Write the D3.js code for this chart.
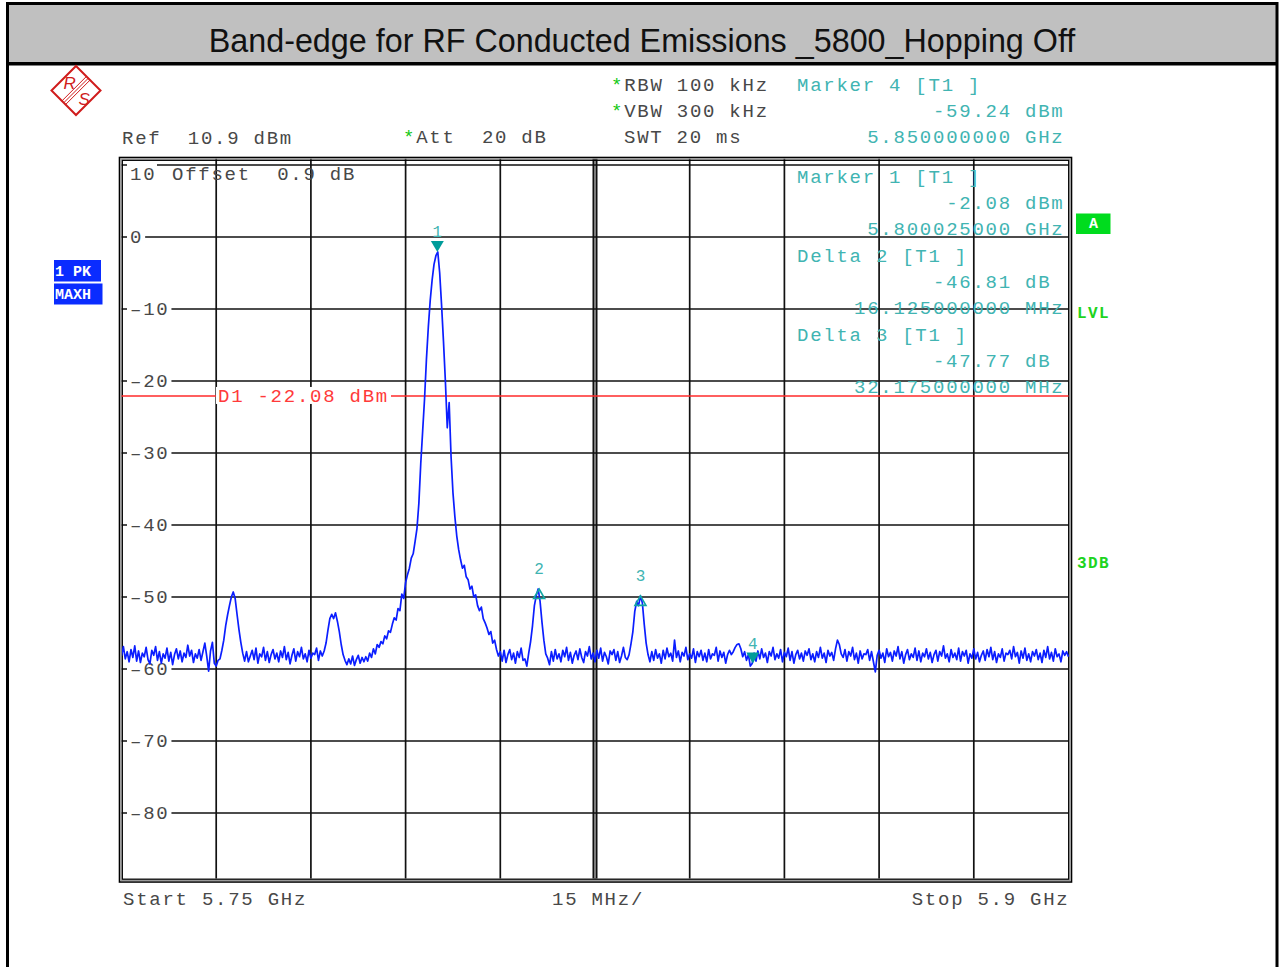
<!DOCTYPE html>
<html>
<head>
<meta charset="utf-8">
<script src="https://cdn.jsdelivr.net/npm/d3@7"></script>
<style>
body { margin: 0; background: #fff; }
text { white-space: pre; }
</style>
</head>
<body>
<div id="chart"></div>
<script>
// sweep settings
var startMHz = 5750;
var stopMHz = 5900;
var stepMHz = 0.3;
var refLevel = 10.9;
var bottomLevel = -89.1;
var d1Level = -22.08;

// trace values (dBm), 501 sweep points, one every 0.3 MHz from 5750 to 5900 MHz
var traceDbm = [
  -58.2, -56.9, -58.6, -57.6, -59.0, -57.3, -58.4, -56.8, -58.9, -57.5,
  -59.1, -57.8, -58.3, -57.0, -58.7, -59.3, -57.4, -58.1, -56.9, -58.8,
  -57.6, -59.2, -57.9, -58.5, -57.1, -58.9, -57.7, -59.4, -58.0, -57.2,
  -58.6, -57.5, -59.0, -57.8, -58.4, -56.7, -58.2, -57.4, -59.1, -57.9,
  -58.5, -57.3, -58.8, -57.6, -56.4, -58.2, -60.3, -57.5, -56.3, -59.2,
  -59.6, -58.8, -58.6, -57.4, -56.0, -54.0, -52.5, -51.2, -50.0, -49.3,
  -50.2, -52.4, -54.5, -56.3, -57.8, -58.9, -57.6, -59.0, -58.2, -57.4,
  -58.7, -57.1, -59.2, -57.9, -58.3, -57.0, -58.8, -57.6, -59.1, -58.0,
  -57.3, -58.6, -57.8, -59.0, -57.5, -58.4, -56.9, -58.7, -57.7, -59.3,
  -58.1, -57.2, -58.9, -57.6, -58.3, -57.0, -58.6, -57.9, -59.0, -57.4,
  -58.5, -57.8, -58.0, -57.1, -58.8, -57.5, -58.2, -57.5, -56.4, -54.6,
  -53.0, -52.4, -53.0, -52.2, -53.4, -54.8, -56.6, -58.0, -58.8, -59.4,
  -58.6, -59.3, -58.2, -59.5, -58.7, -58.1, -59.2, -58.4, -59.0, -58.3,
  -58.9, -57.8, -58.4, -57.2, -57.9, -56.6, -57.0, -56.2, -56.5, -55.4,
  -55.8, -54.7, -54.9, -53.8, -52.9, -53.2, -51.6, -51.9, -49.6, -50.2,
  -48.0, -46.9, -46.0, -44.6, -44.0, -42.3, -40.5, -37.0, -31.5, -27.0,
  -22.5, -17.0, -12.5, -8.8, -6.0, -3.8, -2.6, -2.08, -5.0, -9.5,
  -14.5, -20.0, -26.5, -23.0, -30.5, -35.5, -38.8, -41.5, -43.4, -44.8,
  -46.0, -45.6, -47.2, -47.6, -48.9, -48.5, -50.0, -49.7, -51.2, -51.9,
  -51.4, -53.0, -53.6, -54.3, -55.2, -54.8, -56.4, -56.0, -57.3, -58.2,
  -57.6, -58.9, -57.4, -59.1, -58.0, -57.3, -58.7, -57.8, -59.2, -57.6,
  -58.4, -57.1, -58.8, -58.6, -59.6, -57.8, -56.2, -54.0, -51.2, -49.8,
  -48.89, -50.6, -53.5, -56.0, -57.9, -58.5, -59.4, -57.6, -58.9, -57.3,
  -58.6, -57.9, -59.0, -57.4, -58.3, -57.0, -58.8, -57.7, -59.2, -58.1,
  -57.5, -58.7, -57.2, -58.4, -59.1, -57.6, -58.2, -56.9, -58.6, -57.8,
  -59.0, -57.4, -58.5, -57.1, -58.9, -57.7, -58.3, -59.3, -57.5, -58.0,
  -57.3, -58.8, -57.6, -59.1, -58.2, -57.0, -58.4, -58.7, -58.0, -56.5,
  -54.8, -52.0, -50.6, -51.2, -49.85, -50.8, -53.8, -56.4, -58.0, -59.0,
  -57.6, -58.8, -57.3, -58.5, -57.9, -59.2, -57.4, -58.6, -57.1, -58.3,
  -57.8, -58.9, -56.0, -58.4, -57.5, -59.0, -57.7, -58.2, -57.0, -58.7,
  -57.9, -58.5, -57.2, -59.1, -57.6, -58.3, -57.4, -58.8, -57.8, -59.0,
  -57.3, -58.6, -57.9, -58.1, -57.0, -58.9, -57.5, -58.4, -57.7, -59.2,
  -58.0, -57.4, -58.0, -57.6, -57.0, -56.6, -56.5, -57.2, -58.3, -57.6,
  -58.8, -58.0, -59.6, -59.24, -57.8, -58.9, -57.5, -58.6, -57.2, -58.4,
  -57.8, -59.1, -57.6, -58.2, -57.0, -58.7, -57.9, -58.5, -57.3, -59.0,
  -57.7, -58.3, -57.1, -58.8, -57.6, -59.2, -58.0, -57.4, -58.6, -57.8,
  -58.9, -57.5, -58.1, -57.2, -58.7, -57.9, -59.0, -57.6, -58.4, -57.0,
  -58.5, -57.8, -59.1, -57.4, -58.2, -57.7, -58.8, -57.2, -56.0, -56.6,
  -57.9, -58.4, -57.3, -58.9, -57.6, -58.2, -57.0, -58.7, -57.8, -59.2,
  -57.5, -58.6, -57.9, -58.0, -57.3, -58.8, -57.6, -59.0, -60.4, -58.1,
  -57.4, -58.5, -57.8, -59.1, -57.2, -58.3, -57.7, -58.9, -57.5, -58.2,
  -56.9, -58.6, -57.6, -59.2, -58.0, -57.3, -58.7, -57.9, -58.4, -57.1,
  -58.8, -57.5, -59.0, -57.8, -58.3, -57.2, -58.6, -57.7, -59.1, -58.0,
  -57.4, -58.9, -57.6, -58.2, -56.8, -58.5, -57.9, -59.0, -57.3, -58.4,
  -57.8, -58.7, -57.1, -58.9, -57.6, -58.2, -57.4, -59.2, -57.9, -58.5,
  -57.2, -58.6, -57.7, -59.0, -58.1, -57.5, -58.8, -57.3, -58.3, -57.0,
  -58.7, -57.6, -59.1, -57.9, -58.4, -57.2, -58.9, -57.8, -58.0, -57.4,
  -58.6, -56.9, -58.3, -57.7, -59.2, -57.5, -58.5, -57.1, -58.8, -57.9,
  -59.0, -57.6, -58.2, -57.3, -58.7, -57.8, -59.1, -57.4, -58.4, -56.9,
  -58.6, -57.7, -58.9, -57.2, -58.3, -57.9, -59.0, -57.5, -58.1, -57.6,
  -58.3
];

var yTicks = [10, 0, -10, -20, -30, -40, -50, -60, -70, -80];
var xDivs = 10;

// markers
var markerNames = ["1", "2", "3", "4"];
var markerFreqMHz = [5800.025, 5816.15, 5832.2, 5850];
var markerDbm = [-2.08, -48.89, -49.85, -59.24];
var markerKind = ["abs", "delta", "delta", "abs"];

// marker readout blocks
var marker4Lines = ["Marker 4 [T1 ]", "-59.24 dBm", "5.850000000 GHz"];
var markerTable = [
  ["Marker 1 [T1 ]", "-2.08 dBm", "5.800025000 GHz"],
  ["Delta 2 [T1 ]", "-46.81 dB ", "16.125000000 MHz"],
  ["Delta 3 [T1 ]", "-47.77 dB ", "32.175000000 MHz"]
];

var title = "Band-edge for RF Conducted Emissions _5800_Hopping Off";

var width = 1279, height = 967;
var mono = "'Liberation Mono', 'DejaVu Sans Mono', monospace";
var teal = "#41b4b2";
var grey = "#484848";

var svg = d3.select("#chart")
            .append("svg")
            .attr("width", width)
            .attr("height", height)
            .style("display", "block");

svg.append("rect").attr("width", width).attr("height", height).attr("fill", "#fff");

// title bar and page frame
svg.append("rect")
   .attr("x", 7.5).attr("y", 3.5)
   .attr("width", 1269.5).attr("height", 60)
   .attr("fill", "#c0c0c0");
svg.append("rect")
   .attr("x", 7.5).attr("y", 3.5)
   .attr("width", 1269.5).attr("height", 1000)
   .attr("fill", "none").attr("stroke", "#000").attr("stroke-width", 3);
svg.append("line")
   .attr("x1", 7.5).attr("x2", 1277).attr("y1", 63.7).attr("y2", 63.7)
   .attr("stroke", "#000").attr("stroke-width", 3.5);
svg.append("text")
   .attr("x", 642).attr("y", 52)
   .attr("text-anchor", "middle")
   .style("font", "32.3px 'Liberation Sans', Arial, sans-serif")
   .attr("fill", "#111")
   .text(title);

// R&S logo
var logo = svg.append("g").attr("fill", "none").attr("stroke", "#d01c1c");
logo.append("path")
    .attr("d", "M76,66 L100.5,90.5 L76,115 L51.5,90.5 Z")
    .attr("stroke-width", 2);
[-2.6, 0, 2.6].forEach(function(o) {
    logo.append("line")
        .attr("x1", 88.5 + o * 0.7).attr("y1", 78 + o * 0.7)
        .attr("x2", 63.5 + o * 0.7).attr("y2", 103 + o * 0.7)
        .attr("stroke-width", 1);
});
svg.append("text").attr("x", 63.5).attr("y", 89)
   .style("font", "italic 17px 'Liberation Sans', sans-serif")
   .attr("fill", "#d01c1c").text("R");
svg.append("text").attr("x", 78.5).attr("y", 105)
   .style("font", "italic 17px 'Liberation Sans', sans-serif")
   .attr("fill", "#d01c1c").text("S");

// scales
var x = d3.scaleLinear().domain([startMHz, stopMHz]).range([121.5, 1068.5]);
var y = d3.scaleLinear().domain([bottomLevel, refLevel]).range([878.5, 158.5]);

function monoText(px, py, str, color, anchor) {
    return svg.append("text")
              .attr("x", px).attr("y", py)
              .attr("text-anchor", anchor || "start")
              .attr("fill", color || grey)
              .style("font-family", mono)
              .style("font-size", "19px")
              .style("letter-spacing", "1.75px")
              .text(str);
}

function starText(px, py, str) {
    var t = monoText(px, py, "", grey);
    t.append("tspan").attr("fill", "#14c814").text("*");
    t.append("tspan").text(str);
    return t;
}

// header
starText(611, 91, "RBW 100 kHz");
starText(611, 117, "VBW 300 kHz");
monoText(624, 143, "SWT 20 ms");
monoText(122, 144, "Ref  10.9 dBm");
starText(403, 143, "Att  20 dB");
monoText(797, 91, marker4Lines[0], teal);
monoText(1064.5, 117, marker4Lines[1], teal, "end");
monoText(1064.5, 143, marker4Lines[2], teal, "end");

// side labels
svg.append("rect").attr("x", 54).attr("y", 260).attr("width", 47).attr("height", 21.5).attr("fill", "#0a2cff");
svg.append("rect").attr("x", 54).attr("y", 283.5).attr("width", 48.5).attr("height", 21).attr("fill", "#0a2cff");
svg.append("text").attr("x", 55).attr("y", 276).attr("fill", "#fff")
   .style("font", "bold 15px " + mono).text("1 PK");
svg.append("text").attr("x", 55).attr("y", 299).attr("fill", "#fff")
   .style("font", "bold 15px " + mono).text("MAXH");

svg.append("rect").attr("x", 1076).attr("y", 213.5).attr("width", 34.5).attr("height", 20.5).attr("fill", "#00dc1e");
svg.append("text").attr("x", 1093.5).attr("y", 228).attr("text-anchor", "middle").attr("fill", "#fff")
   .style("font", "bold 15px " + mono).text("A");
svg.append("text").attr("x", 1077).attr("y", 318).attr("fill", "#1ed41e")
   .style("font", "bold 16px " + mono).style("letter-spacing", "1.4px").text("LVL");
svg.append("text").attr("x", 1077).attr("y", 568).attr("fill", "#1ed41e")
   .style("font", "bold 16px " + mono).style("letter-spacing", "1.4px").text("3DB");

// grid
var grid = svg.append("g").attr("stroke", "#111").attr("stroke-width", 1.7);
var xStep = (stopMHz - startMHz) / xDivs;
d3.range(1, xDivs).forEach(function(k) {
    var gx = x(startMHz + k * xStep);
    grid.append("line")
        .attr("x1", gx).attr("x2", gx)
        .attr("y1", y(refLevel)).attr("y2", y(bottomLevel))
        .attr("stroke-width", k === xDivs / 2 ? 5 : 1.7);
    if (k === xDivs / 2) {
        grid.append("line")
            .attr("x1", gx).attr("x2", gx)
            .attr("y1", y(refLevel) + 2).attr("y2", y(bottomLevel))
            .attr("stroke", "#aaa").attr("stroke-width", 1.4);
    }
});
yTicks.forEach(function(v) {
    grid.append("line")
        .attr("x1", x(startMHz)).attr("x2", x(stopMHz))
        .attr("y1", y(v)).attr("y2", y(v));
});

// plot frame (double line)
var fx0 = 119.5, fy0 = 157.5, fx1 = 1071.5, fy1 = 882;
svg.append("rect").attr("x", fx0).attr("y", fy0).attr("width", fx1 - fx0).attr("height", fy1 - fy0)
   .attr("fill", "none").attr("stroke", "#000").attr("stroke-width", 1.6);
svg.append("rect").attr("x", fx0 + 1.4).attr("y", fy0 + 1.4).attr("width", fx1 - fx0 - 2.8).attr("height", fy1 - fy0 - 2.8)
   .attr("fill", "none").attr("stroke", "#9a9a9a").attr("stroke-width", 1.2);
svg.append("rect").attr("x", fx0 + 2.8).attr("y", fy0 + 2.8).attr("width", fx1 - fx0 - 5.6).attr("height", fy1 - fy0 - 5.6)
   .attr("fill", "none").attr("stroke", "#000").attr("stroke-width", 1.3);

// level labels
yTicks.forEach(function(v, i) {
    var gy = y(v);
    var lbl = String(v).replace("-", "\u2013");
    if (i === 0) {
        svg.append("rect").attr("x", 127).attr("y", gy - 3).attr("width", 30).attr("height", 20).attr("fill", "#fff");
        monoText(130, gy + 15, lbl, grey);
        return;
    }
    var w = lbl.length * 13.15 + 5;
    svg.append("rect").attr("x", 127).attr("y", gy - 8).attr("width", w).attr("height", 16).attr("fill", "#fff");
    monoText(130, gy + 6.5, lbl, grey);
});
monoText(172, y(10) + 15, "Offset  0.9 dB", grey);

// display line D1
svg.append("line")
   .attr("x1", x(startMHz)).attr("x2", x(stopMHz))
   .attr("y1", y(d1Level)).attr("y2", y(d1Level))
   .attr("stroke", "#ff2a2a").attr("stroke-width", 1.5);
svg.append("rect").attr("x", 216).attr("y", y(d1Level) - 9).attr("width", 175).attr("height", 17).attr("fill", "#fff");
monoText(218, y(d1Level) + 6, "D1 -22.08 dBm", "#ff3a3a");

// marker readout table inside the plot
markerTable.forEach(function(rows, b) {
    var by = 183 + b * 79;
    monoText(797, by, rows[0], teal);
    monoText(1064.5, by + 26, rows[1], teal, "end");
    monoText(1064.5, by + 52, rows[2], teal, "end");
});

// trace
svg.append("clipPath").attr("id", "plotclip")
   .append("rect").attr("x", 122).attr("y", 160).attr("width", 947).attr("height", 719);

var line = d3.line()
             .x(function(d, i) { return x(startMHz + i * stepMHz); })
             .y(function(d) { return y(d); });

svg.append("path")
   .datum(traceDbm)
   .attr("clip-path", "url(#plotclip)")
   .attr("fill", "none")
   .attr("stroke", "#0b1eff")
   .attr("stroke-width", 1.7)
   .attr("stroke-linejoin", "round")
   .attr("d", line);

// markers
markerNames.forEach(function(name, i) {
    var mx = x(markerFreqMHz[i]);
    var my = y(markerDbm[i]);
    if (markerKind[i] === "abs") {
        svg.append("path")
           .attr("d", "M" + (mx - 6.5) + "," + (my - 11) + " L" + (mx + 6.5) + "," + (my - 11) + " L" + mx + "," + my + " Z")
           .attr("fill", "#009c9a");
    } else {
        svg.append("path")
           .attr("d", "M" + mx + "," + my + " L" + (mx + 5.5) + "," + (my + 9.5) + " L" + (mx - 5.5) + "," + (my + 9.5) + " Z")
           .attr("fill", "none").attr("stroke", "#12a6a4").attr("stroke-width", 1.6);
    }
    svg.append("text")
       .attr("x", mx).attr("y", my - 15)
       .attr("text-anchor", "middle")
       .attr("fill", teal)
       .style("font", "16px " + mono)
       .text(name);
});

// bottom annotation
monoText(123, 905, "Start 5.75 GHz");
monoText(552, 905, "15 MHz/");
monoText(1069.5, 905, "Stop 5.9 GHz", grey, "end");
</script>
</body>
</html>
